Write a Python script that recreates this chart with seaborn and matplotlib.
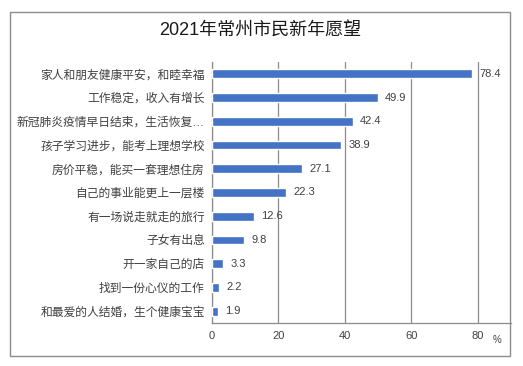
import numpy as np
import pandas as pd
import matplotlib.pyplot as plt
import seaborn as sns
from matplotlib.patches import Rectangle

wishes = ["家人和朋友健康平安，和睦幸福", "工作稳定，收入有增长", "新冠肺炎疫情早日结束，生活恢复…",
          "孩子学习进步，能考上理想学校", "房价平稳，能买一套理想住房", "自己的事业能更上一层楼",
          "有一场说走就走的旅行", "子女有出息", "开一家自己的店", "找到一份心仪的工作",
          "和最爱的人结婚，生个健康宝宝"]
pct = [78.4, 49.9, 42.4, 38.9, 27.1, 22.3, 12.6, 9.8, 3.3, 2.2, 1.9]
xticks = [0, 20, 40, 60, 80]

sns.set_theme(style="white")
plt.rcParams['font.family'] = ['Liberation Sans', 'Noto Sans CJK SC']

data = pd.DataFrame({"wish": wishes, "pct": pct})

fig = plt.figure(figsize=(5.23, 3.66), dpi=100)
ax = fig.add_axes([0.405, 0.1175, 0.572, 0.7131])

sns.barplot(data=data, y="wish", x="pct", orient="h", color="#4472C4",
            saturation=1, width=0.37, ax=ax, zorder=3)

ax.set_xlim(0, 90)
ax.set_xticks(xticks)
ax.set_xticklabels([str(t) for t in xticks], fontsize=8, color="#404040")
ax.tick_params(axis="y", labelsize=8.5, labelcolor="#404040", length=0, pad=5)
ax.tick_params(axis="x", length=0, pad=6)
ax.set_xlabel("")
ax.set_ylabel("")
ax.grid(axis="x", color="#8c8c8c", linewidth=0.9, zorder=0)
for s in ["top", "right"]:
    ax.spines[s].set_visible(False)
for s in ["left", "bottom"]:
    ax.spines[s].set_color("#8c8c8c")
    ax.spines[s].set_linewidth(0.9)

for i, v in enumerate(pct):
    ax.text(v + 2.2, i, f"{v}", va="center", ha="left", fontsize=8, color="#404040")

ax.text(84.5, -0.045, "%", transform=ax.get_xaxis_transform(), ha="left", va="top",
        fontsize=7, color="#404040")

fig.text(0.497, 0.918, "2021年常州市民新年愿望", ha="center", va="center",
         fontsize=13, color="#1a1a1a")

fig.patches.append(Rectangle((10 / 523, 10 / 366), 500 / 523, 344 / 366,
                             transform=fig.transFigure, fill=False,
                             edgecolor="#8c8c8c", linewidth=1))

fig.savefig("out.png", dpi=100)
